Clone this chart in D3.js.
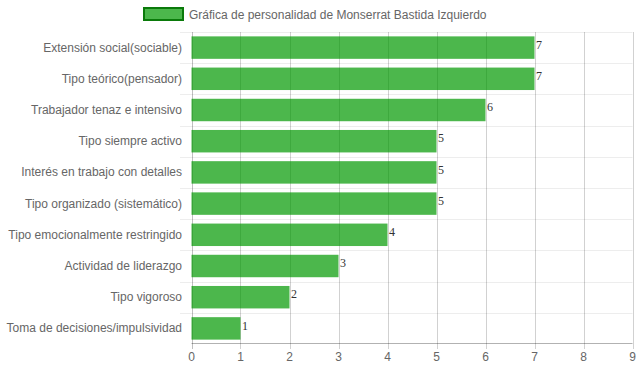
<!DOCTYPE html>
<html><head><meta charset="utf-8">
<script src="https://cdn.jsdelivr.net/npm/d3@7"></script>
<style>body{margin:0;background:#fff}svg{display:block}</style>
</head><body>
<svg id="c" width="639" height="372"></svg>
<script>
const categories = ["Extensión social(sociable)","Tipo teórico(pensador)","Trabajador tenaz e intensivo","Tipo siempre activo","Interés en trabajo con detalles","Tipo organizado (sistemático)","Tipo emocionalmente restringido","Actividad de liderazgo","Tipo vigoroso","Toma de decisiones/impulsividad"];
const values = [7,7,6,5,5,5,4,3,2,1];
const xTicks = [0,1,2,3,4,5,6,7,8,9];
const seriesName = "Gráfica de personalidad de Monserrat Bastida Izquierdo";

const svg = d3.select("#c");
const L = 191.5, R = 632.5, T = 32, B = 344;
const x = d3.scaleLinear().domain([0,9]).range([L,R]);
const y = d3.scaleBand().domain(categories).range([T,B]).paddingInner(0.28).paddingOuter(0.14);
const band = d3.scaleBand().domain(categories).range([T,B]);
const font = "'Liberation Sans', Arial, Helvetica, sans-serif";

// horizontal grid (category boundaries)
const hg = svg.append("g");
categories.forEach((c,i)=>{
  const yy = Math.round(band(c))+0.5;
  hg.append("line").attr("x1",180).attr("x2",R).attr("y1",yy).attr("y2",yy).attr("stroke","rgba(0,0,0,0.07)").attr("stroke-width",1);
});
// vertical grid
const vg = svg.append("g");
xTicks.forEach(t=>{
  const xx = Math.round(x(t))+0.5;
  vg.append("line").attr("x1",xx).attr("x2",xx).attr("y1",T).attr("y2",B+5).attr("stroke",t===0?"rgba(0,0,0,0.25)":"rgba(0,0,0,0.18)").attr("stroke-width",1);
});
// bottom axis line
svg.append("line").attr("x1",L).attr("x2",R).attr("y1",B-0.5).attr("y2",B-0.5).attr("stroke","rgba(0,0,0,0.3)");

// bars
svg.append("g").selectAll("rect").data(values).join("rect")
  .attr("x",x(0)).attr("y",(d,i)=>y(categories[i]))
  .attr("width",d=>x(d)-x(0)).attr("height",y.bandwidth())
  .attr("fill","rgba(0,153,0,0.7)");

// value labels
svg.append("g").selectAll("text").data(values).join("text")
  .attr("x",d=>x(d)+1.5).attr("y",(d,i)=>y(categories[i])+12.5)
  .attr("font-family","'Liberation Serif','Times New Roman',serif").attr("font-size",12)
  .attr("fill","#333").text(d=>d);

// category labels
svg.append("g").selectAll("text").data(categories).join("text")
  .attr("x",182).attr("y",c=>band(c)+band.bandwidth()/2+4)
  .attr("text-anchor","end").attr("font-family",font).attr("font-size",12).attr("fill","#666").text(c=>c);

// x tick labels
svg.append("g").selectAll("text").data(xTicks).join("text")
  .attr("x",t=>x(t)).attr("y",361).attr("text-anchor","middle")
  .attr("font-family",font).attr("font-size",12).attr("fill","#666").text(t=>t);

// legend
svg.append("rect").attr("x",144).attr("y",8).attr("width",39).attr("height",12)
  .attr("fill","rgba(0,153,0,0.7)").attr("stroke","#0a7a0a").attr("stroke-width",2);
svg.append("text").attr("x",189).attr("y",18.5).attr("font-family",font).attr("font-size",12).attr("fill","#666").text(seriesName);
</script>
</body></html>
